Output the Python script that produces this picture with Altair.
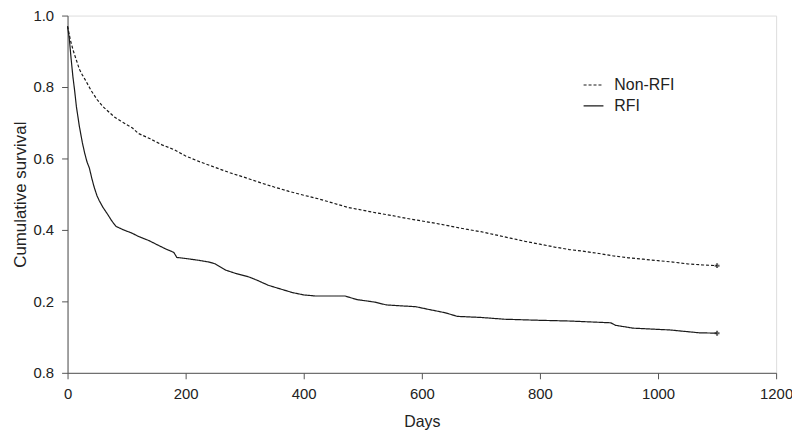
import altair as alt
import pandas as pd

nonrfi_days = [0, 5, 10, 15, 20, 25, 30, 40, 50, 60, 70, 80, 90, 100, 110, 120, 140, 160, 180, 200,
               225, 250, 275, 300, 325, 350, 375, 400, 425, 450, 475, 500, 525, 550, 575, 600, 625,
               650, 675, 700, 725, 750, 775, 800, 825, 850, 875, 900, 925, 950, 975, 1000, 1025,
               1050, 1075, 1100]
nonrfi_surv = [0.97, 0.93, 0.90, 0.875, 0.85, 0.834, 0.82, 0.79, 0.765, 0.745, 0.73, 0.715, 0.705,
               0.695, 0.685, 0.67, 0.655, 0.638, 0.625, 0.607, 0.59, 0.575, 0.56, 0.547, 0.533, 0.52,
               0.508, 0.497, 0.487, 0.475, 0.463, 0.455, 0.447, 0.44, 0.432, 0.425, 0.418, 0.41,
               0.402, 0.395, 0.386, 0.377, 0.368, 0.36, 0.352, 0.345, 0.34, 0.334, 0.327, 0.322,
               0.318, 0.314, 0.31, 0.305, 0.302, 0.300]

rfi_days = [0, 3, 6, 9, 12, 15, 20, 25, 29, 33, 37, 41, 45, 50, 54, 60, 67, 75, 82, 95, 109, 120,
            138, 150, 166, 180, 185, 200, 222, 240, 250, 267, 285, 306, 320, 340, 360, 380, 400,
            420, 470, 490, 520, 540, 590, 610, 640, 660, 700, 740, 800, 850, 920, 928, 958, 1020,
            1070, 1100]
rfi_surv = [0.97, 0.935, 0.88, 0.83, 0.79, 0.745, 0.69, 0.645, 0.615, 0.59, 0.573, 0.545, 0.52,
            0.495, 0.481, 0.463, 0.446, 0.425, 0.41, 0.40, 0.391, 0.382, 0.37, 0.36, 0.347, 0.337,
            0.323, 0.32, 0.315, 0.31, 0.305, 0.288, 0.278, 0.269, 0.26, 0.245, 0.235, 0.225, 0.218,
            0.215, 0.215, 0.205, 0.198, 0.19, 0.185, 0.178, 0.168, 0.158, 0.155, 0.15, 0.147,
            0.145, 0.14, 0.133, 0.125, 0.12, 0.112, 0.111]

groups = ["Non-RFI", "RFI"]
x_ticks = [0, 200, 400, 600, 800, 1000, 1200]
y_ticks = [0, 0.2, 0.4, 0.6, 0.8, 1.0]

df = pd.concat([
    pd.DataFrame({"Days": nonrfi_days, "Survival": nonrfi_surv, "Group": groups[0]}),
    pd.DataFrame({"Days": rfi_days, "Survival": rfi_surv, "Group": groups[1]}),
])
ends = pd.DataFrame({
    "Days": [nonrfi_days[-1], rfi_days[-1]],
    "Survival": [nonrfi_surv[-1], rfi_surv[-1]],
    "Group": groups,
})

FONT = "Liberation Sans"
INK = "#1a1a1a"

x = alt.X("Days:Q", title="Days",
          scale=alt.Scale(domain=[0, 1200], nice=False, zero=True),
          axis=alt.Axis(values=x_ticks, format="d", grid=False, tickSize=6, labelPadding=8,
                        titlePadding=12, labelFontSize=15, titleFontSize=16,
                        titleFontWeight="normal",
                        labelColor="#222", titleColor="#222", domainColor="#555",
                        tickColor="#555", labelFont=FONT, titleFont=FONT, labelFlush=False))
y = alt.Y("Survival:Q", title="Cumulative survival",
          scale=alt.Scale(domain=[0, 1.0], nice=False),
          axis=alt.Axis(values=y_ticks, grid=False, tickSize=6, labelPadding=8,
                        titlePadding=4, labelFontSize=15, titleFontSize=17,
                        titleFontWeight="normal",
                        labelColor="#222", titleColor="#222", domainColor="#555",
                        tickColor="#555", labelFont=FONT, titleFont=FONT,
                        labelExpr="datum.value == 0 ? '0.8' : format(datum.value, '.1f')"))

lines = alt.Chart(df).mark_line(color=INK, strokeWidth=1.2).encode(
    x=x, y=y,
    strokeDash=alt.StrokeDash("Group:N",
                              scale=alt.Scale(domain=groups, range=[[3, 2], [1, 0]]),
                              legend=alt.Legend(title=None, orient="none", legendX=519, legendY=59,
                                                symbolType="stroke", symbolSize=400,
                                                symbolStrokeColor=INK, symbolStrokeWidth=1.2,
                                                labelFontSize=16, labelFont=FONT, labelColor="#222",
                                                labelOffset=10, rowPadding=2)),
)

marks = alt.Chart(ends).mark_point(shape="cross", size=25, filled=True, color=INK).encode(
    x="Days:Q", y="Survival:Q")

chart = alt.layer(lines, marks).properties(
    width=714, height=360,
    autosize=alt.AutoSizeParams(type="none"),
    padding={"left": 60, "top": 6, "right": 16, "bottom": 56},
).configure_view(stroke=None).configure(background="white")

chart.save("out.html", embed_options={"renderer": "svg", "actions": False})
